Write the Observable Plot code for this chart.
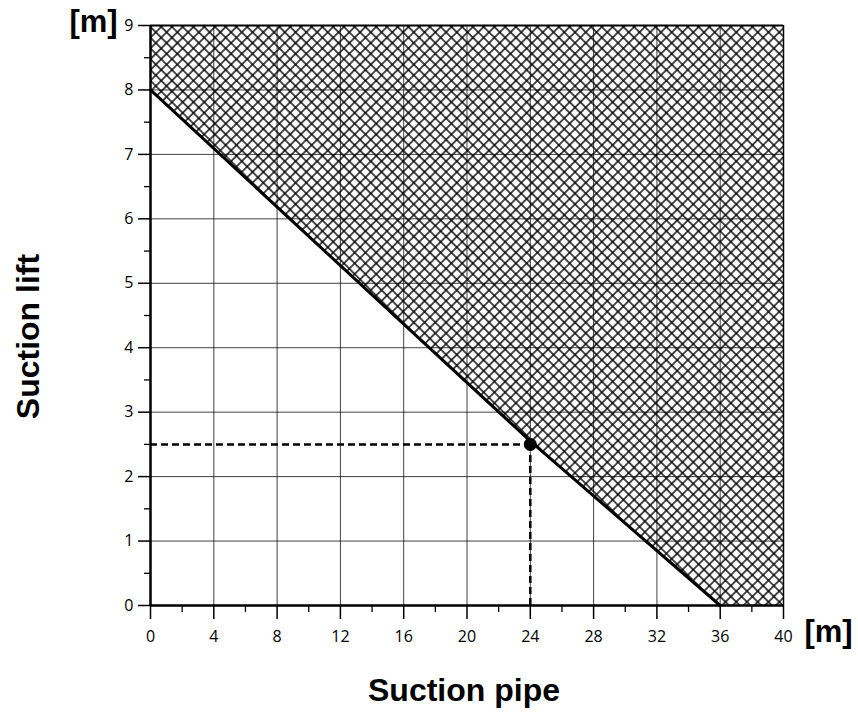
<!DOCTYPE html>
<html><head><meta charset="utf-8">
<script src="https://cdn.jsdelivr.net/npm/d3@7"></script>
<script src="https://cdn.jsdelivr.net/npm/@observablehq/plot@0.6"></script>
<style>
body{margin:0;background:#fff}
</style>
</head><body><div id="chart"></div>
<script>
// ---- data ----
const boundaryX = [0, 24, 36];        // suction pipe length [m]
const boundaryY = [8, 2.55, 0];       // max suction lift [m]
const xMax = 40, yMax = 9;
const pointX = [24];
const pointY = [2.5];
const xTicks = [0, 4, 8, 12, 16, 20, 24, 28, 32, 36, 40];
const xMinor = [2, 6, 10, 14, 18, 22, 26, 30, 34, 38];
const yTicks = [0, 1, 2, 3, 4, 5, 6, 7, 8, 9];
const yMinor = [0.5, 1.5, 2.5, 3.5, 4.5, 5.5, 6.5, 7.5, 8.5];
const xLabel = "Suction pipe";
const yLabel = "Suction lift";
const unitLabel = "[m]";

// ---- derived tables ----
const boundary = boundaryX.map((x, i) => ({x, y: boundaryY[i]}));
const hatchArea = [...boundary, {x: xMax, y: 0}].map(d => ({x: d.x, y1: d.y, y2: yMax}));
const op = pointX.map((x, i) => ({x, y: pointY[i]}));

const titleFont = "'Liberation Sans', Arial, sans-serif";
const fmt = d => String(d);

const chart = Plot.plot({
  width: 858, height: 713,
  marginLeft: 150, marginRight: 75, marginTop: 25, marginBottom: 108,
  style: {fontFamily: "'Open Sans', sans-serif", background: "#fff", color: "#000"},
  x: {domain: [0, xMax], label: null},
  y: {domain: [0, yMax], label: null},
  marks: [
    Plot.areaY(hatchArea, {x: "x", y1: "y1", y2: "y2", fill: "url(#xhatch)"}),
    Plot.gridX(xTicks.filter(d => d > 0 && d < xMax), {stroke: "#000", strokeOpacity: 0.75, strokeWidth: 1}),
    Plot.gridY(yTicks.filter(d => d > 0 && d < yMax), {stroke: "#000", strokeOpacity: 0.75, strokeWidth: 1}),
    Plot.axisX(xMinor, {tickSize: 7, tickFormat: () => "", strokeWidth: 1.3, label: null}),
    Plot.axisX(xTicks, {tickSize: 14, tickPadding: 11, tickFormat: fmt, fontSize: 16, strokeWidth: 1.5, label: null}),
    Plot.axisY(yMinor, {tickSize: 6, tickFormat: () => "", strokeWidth: 1.3, label: null}),
    Plot.axisY(yTicks, {tickSize: 12, tickPadding: 5, tickFormat: fmt, fontSize: 16, strokeWidth: 1.5, label: null}),
    Plot.ruleY([yMax], {stroke: "#000", strokeWidth: 2}),
    Plot.ruleX([xMax], {stroke: "#000", strokeWidth: 1.5}),
    Plot.ruleY([0], {stroke: "#000", strokeWidth: 2.5}),
    Plot.ruleX([0], {stroke: "#000", strokeWidth: 2.5}),
    Plot.line(boundary, {x: "x", y: "y", stroke: "#000", strokeWidth: 3}),
    Plot.ruleY(op, {y: "y", x1: 0, x2: "x", stroke: "#000", strokeWidth: 2.5, strokeDasharray: "7,4"}),
    Plot.ruleX(op, {x: "x", y1: 0, y2: "y", stroke: "#000", strokeWidth: 2.5, strokeDasharray: "7,4"}),
    Plot.dot(op, {x: "x", y: "y", r: 6.5, fill: "#000", stroke: null}),
    Plot.text([unitLabel], {frameAnchor: "top-left", text: d => d, dx: -57, dy: -3, textAnchor: "middle", lineAnchor: "middle", fontSize: 31, fontWeight: "bold", fontFamily: titleFont}),
    Plot.text([unitLabel], {frameAnchor: "bottom-right", text: d => d, dx: 45, dy: 27, textAnchor: "middle", lineAnchor: "middle", fontSize: 31, fontWeight: "bold", fontFamily: titleFont}),
    Plot.text([xLabel], {frameAnchor: "bottom", text: d => d, dx: -3, dy: 85, textAnchor: "middle", lineAnchor: "middle", fontSize: 32, fontWeight: "bold", fontFamily: titleFont}),
    Plot.text([yLabel], {frameAnchor: "left", text: d => d, dx: -122, dy: 21, rotate: -90, textAnchor: "middle", lineAnchor: "middle", fontSize: 32, fontWeight: "bold", fontFamily: titleFont})
  ]
});

// enforce tick-label size on the axis text groups
d3.select(chart).selectAll("g").filter(function() {
  const a = this.getAttribute("aria-label") || "";
  return /tick label/.test(a);
}).attr("font-size", 16).style("font-size", "16px")
  .selectAll("text").style("font-size", "16px");

d3.select(chart).insert("defs", ":first-child").html(`
  <pattern id="xhatch" patternUnits="userSpaceOnUse" width="7.6" height="7.6" patternTransform="rotate(45)">
    <rect width="7.6" height="7.6" fill="#fff"/>
    <line x1="3.8" y1="0" x2="3.8" y2="7.6" stroke="#000" stroke-width="1.4"/>
    <line x1="0" y1="3.8" x2="7.6" y2="3.8" stroke="#000" stroke-width="1.4"/>
  </pattern>`);

document.getElementById("chart").appendChild(chart);
</script>
</body></html>
